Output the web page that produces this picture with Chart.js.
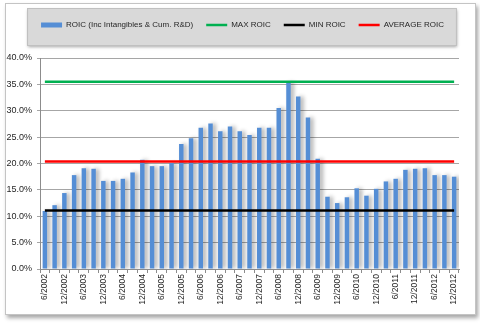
<!DOCTYPE html>
<html>
<head>
<meta charset="utf-8">
<script src="https://cdn.jsdelivr.net/npm/chart.js@4.4.0/dist/chart.umd.min.js"></script>
<style>
body{margin:0;background:#fff;}
#frame{position:absolute;left:5px;top:3px;width:469px;height:310px;border:1px solid #c4c4c4;box-shadow:2px 3px 4px rgba(0,0,0,0.35);background:#fff;}
#chartContainer{position:absolute;left:0;top:0;width:480px;height:323px;}
</style>
</head>
<body>
<div id="frame"></div>
<div id="chartContainer"><canvas id="myChart"></canvas></div>
<script>
// quarterly periods
var quarters = ['6/2002','9/2002','12/2002',
  '3/2003','6/2003','9/2003','12/2003',
  '3/2004','6/2004','9/2004','12/2004',
  '3/2005','6/2005','9/2005','12/2005',
  '3/2006','6/2006','9/2006','12/2006',
  '3/2007','6/2007','9/2007','12/2007',
  '3/2008','6/2008','9/2008','12/2008',
  '3/2009','6/2009','9/2009','12/2009',
  '3/2010','6/2010','9/2010','12/2010',
  '3/2011','6/2011','9/2011','12/2011',
  '3/2012','6/2012','9/2012','12/2012'];

// ROIC in %
var roic = [11.0,12.1,14.4,
  17.8,19.1,19.0,16.7,
  16.7,17.1,18.3,20.7,
  19.5,19.5,20.1,23.7,
  24.8,26.8,27.6,26.1,
  27.0,26.1,25.4,26.8,
  26.8,30.5,35.4,32.7,
  28.7,20.9,13.7,12.5,
  13.6,15.3,13.9,15.2,
  16.6,17.1,18.8,19.0,
  19.1,17.8,17.8,17.5];

var maxRoic = 35.5;
var minRoic = 11.1;
var avgRoic = 20.4;

var yTicks = [0,5,10,15,20,25,30,35,40];

var maxLine = quarters.map(function(){ return maxRoic; });
var minLine = quarters.map(function(){ return minRoic; });
var avgLine = quarters.map(function(){ return avgRoic; });

var barShadow = {
  id: 'barShadow',
  beforeDatasetDraw: function(chart, args){
    if (args.meta.type !== 'bar') return;
    var ctx = chart.ctx;
    ctx.save();
    ctx.shadowColor = 'rgba(0,0,0,0.32)';
    ctx.shadowBlur = 4;
    ctx.shadowOffsetX = 3;
    ctx.shadowOffsetY = 0;
  },
  afterDatasetDraw: function(chart, args){
    if (args.meta.type !== 'bar') return;
    chart.ctx.restore();
  }
};

var legendBox = {
  id: 'legendBox',
  afterInit: function(chart){
    var lg = chart.legend;
    var origFit = lg.fit;
    lg.fit = function(){
      origFit.call(this);
      this.height = 50;
    };
  },
  afterLayout: function(chart){
    // nudge legend to the right, as in the original
    chart.legend.left += 11;
    chart.legend.right += 11;
  },
  beforeDraw: function(chart){
    var lg = chart.legend;
    if (!lg || !lg.legendHitBoxes.length) return;
    var boxes = lg.legendHitBoxes;
    var l = boxes[0].left - 14;
    var r = boxes[boxes.length-1].left + boxes[boxes.length-1].width + 12;
    var ctx = chart.ctx;
    ctx.save();
    ctx.shadowColor = 'rgba(0,0,0,0.35)';
    ctx.shadowBlur = 3;
    ctx.shadowOffsetX = 1;
    ctx.shadowOffsetY = 2;
    ctx.fillStyle = '#d9d9d9';
    ctx.fillRect(l, lg.top, r - l, 37);
    ctx.restore();
    ctx.strokeStyle = '#c0c0c0';
    ctx.lineWidth = 1;
    ctx.strokeRect(l + 0.5, lg.top + 0.5, r - l, 37);
  }
};

var ctx = document.getElementById('myChart').getContext('2d');
var chart = new Chart(ctx, {
  type: 'bar',
  data: {
    labels: quarters,
    datasets: [{
        type: 'bar',
        label: 'ROIC (Inc Intangibles & Cum. R&D)',
        data: roic,
        backgroundColor: '#558ed5',
        borderWidth: 0,
        pointStyle: 'rect',
        barPercentage: 0.46,
        categoryPercentage: 1,
        order: 2
      },{
        type: 'line',
        label: 'MAX ROIC',
        data: maxLine,
        borderColor: '#00b050',
        backgroundColor: '#00b050',
        borderWidth: 2.5,
        pointRadius: 0,
        pointStyle: 'line',
        order: 1
      },{
        type: 'line',
        label: 'MIN ROIC',
        data: minLine,
        borderColor: '#000000',
        backgroundColor: '#000000',
        borderWidth: 2.5,
        pointRadius: 0,
        pointStyle: 'line',
        order: 1
      },{
        type: 'line',
        label: 'AVERAGE ROIC',
        data: avgLine,
        borderColor: '#ff0000',
        backgroundColor: '#ff0000',
        borderWidth: 2.5,
        pointRadius: 0,
        pointStyle: 'line',
        order: 1
      }]
  },
  options: {
    responsive: true,
    maintainAspectRatio: false,
    animation: false,
    layout: { padding: { left: 4, right: 21, top: 8, bottom: 10 } },
    plugins: {
      tooltip: { enabled: false },
      legend: {
        position: 'top',
        labels: {
          usePointStyle: true,
          pointStyleWidth: 21,
          boxHeight: 5,
          padding: 13,
          color: '#262626',
          font: { family: 'Liberation Sans', size: 8 },
          sort: function(a, b){ return a.datasetIndex - b.datasetIndex; }
        }
      }
    },
    scales: {
      x: {
        afterFit: function(s){ s.height = 44; },
        grid: { drawOnChartArea: false, tickLength: 4, color: '#8c8c8c' },
        border: { color: '#8c8c8c' },
        ticks: {
          autoSkip: false,
          minRotation: 90,
          maxRotation: 90,
          padding: 1,
          color: '#262626',
          font: { family: 'Liberation Sans', size: 8.5 },
          callback: function(v, i){ return i % 2 === 0 ? quarters[i] : ''; }
        }
      },
      y: {
        min: 0,
        max: 40,
        afterFit: function(s){ s.width = 36; },
        afterBuildTicks: function(s){ s.ticks = yTicks.map(function(v){ return {value: v}; }); },
        grid: { color: '#a6a6a6', tickLength: 3 },
        border: { color: '#8c8c8c' },
        ticks: {
          padding: 5,
          color: '#262626',
          font: { family: 'Liberation Sans', size: 9 },
          callback: function(v){ return v.toFixed(1) + '%'; }
        }
      }
    }
  },
  plugins: [barShadow, legendBox]
});
</script>
</body>
</html>
